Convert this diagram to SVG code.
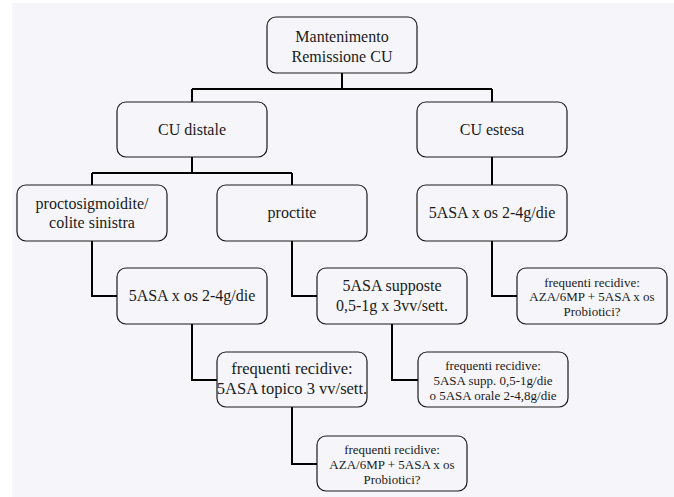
<svg xmlns="http://www.w3.org/2000/svg" width="674" height="497" viewBox="0 0 674 497">
  <style>
    .box { fill: #f6f6fa; stroke: #1a1a1a; stroke-width: 1.2; }
    .lbl { font-family: "Liberation Serif", "Times New Roman", serif; font-size: 16px; fill: #1a1a1a; text-anchor: middle; }
    .sm { font-size: 13px; }
    .wire { fill: none; stroke: #000; stroke-width: 2; }
  </style>
  <rect x="12" y="3" width="662" height="494" fill="#f6f6fa"/>

  <g id="connectors">
    <path class="wire" d="M342 73 V89 M192 89 H492 M192 89 V102 M492 89 V102"/>
    <path class="wire" d="M192 157 V173 M92 173 H292 M92 173 V185 M292 173 V185"/>
    <path class="wire" d="M492 157 V185"/>
    <path class="wire" d="M92 241 V296 H117"/>
    <path class="wire" d="M292 241 V296 H317"/>
    <path class="wire" d="M492 241 V296 H517"/>
    <path class="wire" d="M192 324 V380 H217"/>
    <path class="wire" d="M392 324 V380 H418"/>
    <path class="wire" d="M292 407 V464 H317"/>
  </g>

  <g id="mantenimento">
    <rect class="box" x="267" y="17" width="150" height="56" rx="9"/>
    <text class="lbl" x="342" y="42">Mantenimento</text>
    <text class="lbl" x="342" y="62">Remissione CU</text>
  </g>
  <g id="cu-distale">
    <rect class="box" x="117" y="102" width="150" height="55" rx="9"/>
    <text class="lbl" x="192" y="135">CU distale</text>
  </g>
  <g id="cu-estesa">
    <rect class="box" x="417" y="102" width="150" height="55" rx="9"/>
    <text class="lbl" x="492" y="135">CU estesa</text>
  </g>
  <g id="proctosigmoidite">
    <rect class="box" x="17" y="185" width="150" height="56" rx="9"/>
    <text class="lbl" x="92" y="209">proctosigmoidite/</text>
    <text class="lbl" x="92" y="228">colite sinistra</text>
  </g>
  <g id="proctite">
    <rect class="box" x="217" y="185" width="150" height="56" rx="9"/>
    <text class="lbl" x="292" y="218">proctite</text>
  </g>
  <g id="estesa-5asa">
    <rect class="box" x="417" y="185" width="150" height="56" rx="9"/>
    <text class="lbl" x="492" y="218">5ASA x os 2-4g/die</text>
  </g>
  <g id="distale-5asa">
    <rect class="box" x="117" y="268" width="150" height="56" rx="9"/>
    <text class="lbl" x="192" y="301">5ASA x os 2-4g/die</text>
  </g>
  <g id="supposte">
    <rect class="box" x="317" y="268" width="150" height="56" rx="9"/>
    <text class="lbl" x="392" y="291">5ASA supposte</text>
    <text class="lbl" x="392" y="311">0,5-1g x 3vv/sett.</text>
  </g>
  <g id="estesa-recidive">
    <rect class="box" x="517" y="268" width="150" height="56" rx="9"/>
    <text class="lbl sm" x="592" y="287">frequenti recidive:</text>
    <text class="lbl sm" x="592" y="301">AZA/6MP + 5ASA x os</text>
    <text class="lbl sm" x="592" y="316">Probiotici?</text>
  </g>
  <g id="topico">
    <rect class="box" x="217" y="352" width="150" height="55" rx="9"/>
    <text class="lbl" x="292" y="374" style="font-size:16.5px">frequenti recidive:</text>
    <text class="lbl" x="292" y="394" style="font-size:16.5px">5ASA topico 3 vv/sett.</text>
  </g>
  <g id="supp-recidive">
    <rect class="box" x="418" y="352" width="150" height="55" rx="9"/>
    <text class="lbl sm" x="493" y="370">frequenti recidive:</text>
    <text class="lbl sm" x="493" y="385">5ASA supp. 0,5-1g/die</text>
    <text class="lbl sm" x="493" y="400">o 5ASA orale 2-4,8g/die</text>
  </g>
  <g id="distale-recidive">
    <rect class="box" x="317" y="436" width="150" height="55" rx="9"/>
    <text class="lbl sm" x="392" y="454">frequenti recidive:</text>
    <text class="lbl sm" x="392" y="469">AZA/6MP + 5ASA x os</text>
    <text class="lbl sm" x="392" y="484">Probiotici?</text>
  </g>
</svg>
